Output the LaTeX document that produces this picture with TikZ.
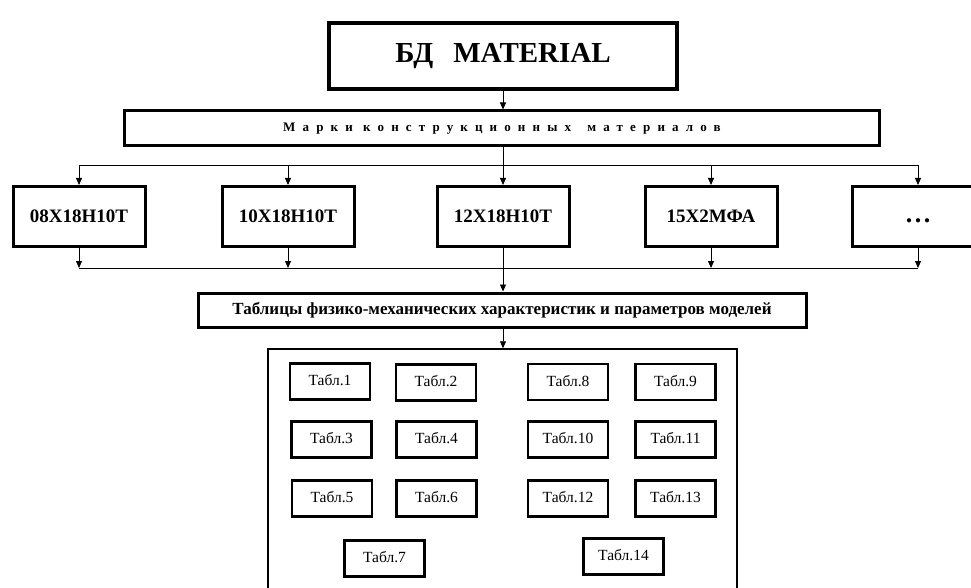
\documentclass[tikz,border=0pt]{standalone}
\usepackage{fontspec}
\setmainfont{Liberation Serif}
\newfontfamily\spacedfont[LetterSpace=55]{Liberation Serif}
\usetikzlibrary{arrows.meta}
\newcommand\tablab[1]{\raisebox{2.5pt}{Табл.#1}}
\begin{document}
\begin{tikzpicture}[x=1pt,y=-1pt,
  mainbox/.style={draw, line width=3pt, inner sep=0pt},
  gradebox/.style={mainbox, minimum width=132pt, minimum height=60pt,
    font=\bfseries\fontsize{19}{19}\selectfont},
  tbox/.style={draw, line width=2.5pt, minimum width=80pt, minimum height=36pt,
    inner sep=0pt, font=\fontsize{15.5}{15.5}\selectfont},
  conn/.style={line width=0.8pt},
  arr/.style={conn, -{Triangle[length=7pt,width=6pt]}}]
\useasboundingbox (0,0) rectangle (971,588);
% top boxes
\node[mainbox, line width=3.5pt, minimum width=348pt, minimum height=66pt,
  font=\bfseries\fontsize{29}{29}\selectfont] (db) at (503,56) {БД\hspace{20pt}MATERIAL};
\node[mainbox, minimum width=755pt, minimum height=35pt,
  font=\spacedfont\bfseries\fontsize{13}{13}\selectfont] (grades) at (502,128.5)
  {Марки конструкционных\hspace{6pt} материалов};
% grade boxes
\node[gradebox] (b1) at (79,216.5) {08Х18Н10Т};
\node[gradebox] (b2) at (288,216.5) {10Х18Н10Т};
\node[gradebox] (b3) at (503,216.5) {12Х18Н10Т};
\node[gradebox] (b4) at (711,216.5) {15Х2МФА};
\node[gradebox] (b5) at (918,216.5) {\vphantom{0}\fontsize{26}{26}\selectfont .\hspace{2.5pt}.\hspace{2.5pt}.};
% tables title
\node[mainbox, minimum width=608pt, minimum height=34pt,
  font=\bfseries\fontsize{17}{17}\selectfont] (tabs) at (502,310)
  {Таблицы физико-механических характеристик и параметров моделей};
% big container (open below the page)
\node[draw, line width=1.5pt, minimum width=469pt, minimum height=291pt, inner sep=0pt]
  (big) at (502.5,494.5) {};
% small tables
\node[tbox] (t1) at (330,381.5) {\tablab{1}};
\node[tbox] (t2) at (436,382.5) {\tablab{2}};
\node[tbox] (t8) at (568,382) {\tablab{8}};
\node[tbox] (t9) at (675.5,382) {\tablab{9}};
\node[tbox] (t3) at (331.5,439.5) {\tablab{3}};
\node[tbox] (t4) at (436.5,439.5) {\tablab{4}};
\node[tbox] (t10) at (568,439.5) {\tablab{10}};
\node[tbox] (t11) at (675.5,439.5) {\tablab{11}};
\node[tbox] (t5) at (332,498.5) {\tablab{5}};
\node[tbox] (t6) at (436.5,498.5) {\tablab{6}};
\node[tbox] (t12) at (568,498.5) {\tablab{12}};
\node[tbox] (t13) at (675.5,498.5) {\tablab{13}};
\node[tbox] (t7) at (384.5,558.5) {\tablab{7}};
\node[tbox] (t14) at (623.5,556.5) {\tablab{14}};
% connectors
\coordinate (tM) at (503,165);
\coordinate (tL) at (79,165);
\coordinate (tR) at (918,165);
\coordinate (bL) at (79,268);
\coordinate (bR) at (918,268);
\draw[arr] (db.south -| tM) -- (grades.north -| tM);
\draw[conn] (grades.south -| tM) -- (tM);
\draw[conn] (tL) -- (tR);
\foreach \b in {b1,b2,b3,b4,b5} \draw[arr] (\b.north |- tM) -- (\b.north);
\foreach \b in {b1,b2,b4,b5} \draw[arr] (\b.south) -- (\b.south |- bL);
\draw[conn] (bL) -- (bR);
\draw[arr] (b3.south) -- (b3.south |- tabs.north);
\draw[arr] (tabs.south -| b3) -- (big.north -| b3);
\end{tikzpicture}
\end{document}
